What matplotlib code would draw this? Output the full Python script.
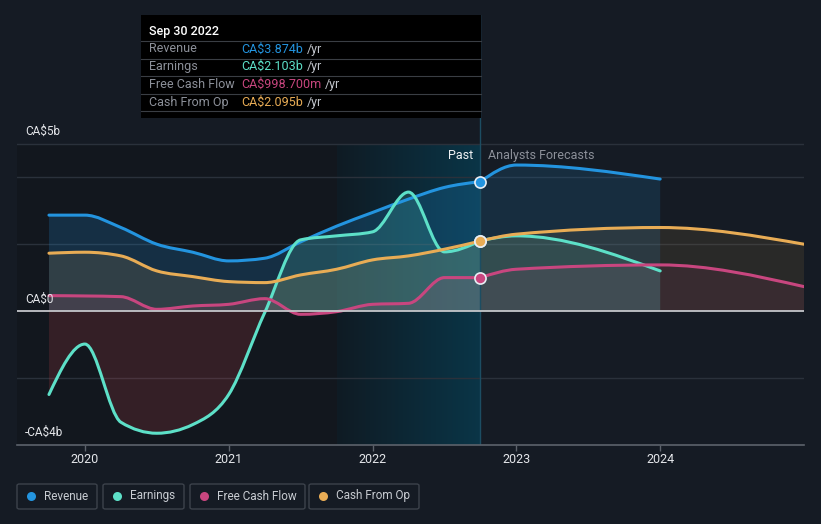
import matplotlib
matplotlib.use("Agg")
import matplotlib.pyplot as plt
from matplotlib.path import Path
from matplotlib.patches import PathPatch, Rectangle, FancyBboxPatch
import numpy as np

plt.rcParams['font.family'] = ['Roboto', 'DejaVu Sans']

W, H = 821, 524

# data, billions CA$
past_x = [2019.75, 2020.0, 2020.25, 2020.5, 2020.75, 2021.0, 2021.25,
          2021.5, 2021.75, 2022.0, 2022.25, 2022.5, 2022.75]
revenue_past = [2.87, 2.87, 2.5, 2.0, 1.76, 1.5, 1.58, 2.07, 2.54, 2.95, 3.35, 3.7, 3.874]
earnings_past = [-2.5, -0.99, -3.33, -3.66, -3.4, -2.5, -0.05, 2.13, 2.25, 2.37, 3.56, 1.77, 2.103]
fcf_past = [0.46, 0.45, 0.43, 0.05, 0.15, 0.2, 0.37, -0.1, -0.02, 0.2, 0.23, 1.0, 0.9987]
cfo_past = [1.73, 1.76, 1.65, 1.2, 1.03, 0.88, 0.85, 1.08, 1.25, 1.53, 1.65, 1.85, 2.095]

fc_x_short = [2022.75, 2023.0, 2024.0]
fc_x_long = [2022.75, 2023.0, 2024.0, 2025.0]
revenue_fc = [3.874, 4.37, 3.95]
earnings_fc = [2.103, 2.25, 1.2]
fcf_fc = [0.9987, 1.25, 1.38, 0.73]
cfo_fc = [2.095, 2.3, 2.5, 2.0]

names = ['Revenue', 'Earnings', 'Free Cash Flow', 'Cash From Op']
colors = ['#2394df', '#5de0c8', '#c8467f', '#e8ac55']
tip_values = ['CA$3.874b', 'CA$2.103b', 'CA$998.700m', 'CA$2.095b']
year_ticks = [2020, 2021, 2022, 2023, 2024]

BG = '#151b24'


def mono_path(x, y, close=False):
    # monotone cubic (like d3 curveMonotoneX) as bezier path
    x = np.asarray(x, float)
    y = np.asarray(y, float)
    n = len(x)
    h = np.diff(x)
    s = np.diff(y) / h
    m = np.zeros(n)
    for i in range(1, n - 1):
        p = (s[i - 1] * h[i] + s[i] * h[i - 1]) / (h[i - 1] + h[i])
        m[i] = (np.sign(s[i - 1]) + np.sign(s[i])) * min(abs(s[i - 1]), abs(s[i]), 0.5 * abs(p))
    if n > 2:
        m[0] = (3 * s[0] - m[1]) / 2
        m[-1] = (3 * s[-1] - m[-2]) / 2
    else:
        m[0] = m[-1] = s[0]
    verts = [(x[0], y[0])]
    codes = [Path.MOVETO]
    for i in range(n - 1):
        d = h[i] / 3
        verts += [(x[i] + d, y[i] + m[i] * d), (x[i + 1] - d, y[i + 1] - m[i + 1] * d), (x[i + 1], y[i + 1])]
        codes += [Path.CURVE4] * 3
    if close:
        verts += [(x[-1], 0), (x[0], 0), (x[0], y[0])]
        codes += [Path.LINETO, Path.LINETO, Path.CLOSEPOLY]
    return Path(verts, codes)


fig = plt.figure(figsize=(W / 100, H / 100), dpi=100, facecolor=BG)
ax_l, ax_r, ax_t, ax_b = 17, 804, 15, 444.6
ax = fig.add_axes([ax_l / W, 1 - ax_b / H, (ax_r - ax_l) / W, (ax_b - ax_t) / H])
ax.set_facecolor(BG)
ymin = -4.0
ymax = ymin + (ax_b - ax_t) / 33.4
xmin = 2020 + (ax_l - 85) / 144
xmax = 2025.0

# darker past area + highlighted band
ax.add_patch(Rectangle((xmin, -4), 2021.75 - xmin, 9, facecolor='#12171e', edgecolor='none', zorder=0.4))
c0 = np.array(matplotlib.colors.to_rgb('#0f1b24'))
c1 = np.array(matplotlib.colors.to_rgb('#0a3547'))
t = np.linspace(0, 1, 144)[None, :, None]
grad = c0 + (c1 - c0) * t
ax.imshow(grad, extent=[2021.75, 2022.75, -4, 5], aspect='auto', zorder=0.5, interpolation='nearest')

# grid
for g in [5, 4, 2, -2]:
    ax.axhline(g, color='#2a313b', lw=1, zorder=1)
ax.axhline(0, color='#c4c6ca', lw=1.3, zorder=6)

clip_pos = Rectangle((xmin, 0), xmax - xmin, 20, transform=ax.transData)
clip_neg = Rectangle((xmin, -20), xmax - xmin, 20, transform=ax.transData)

series = [
    (revenue_past, fc_x_short, revenue_fc),
    (earnings_past, fc_x_short, earnings_fc),
    (fcf_past, fc_x_long, fcf_fc),
    (cfo_past, fc_x_long, cfo_fc),
]
fill_alpha = [0.2, 0.16, 0.12, 0.13]

for (yp, fx, yf), col, fa in zip(series, colors, fill_alpha):
    for xs, ys, a in [(past_x, yp, fa), (fx, yf, fa * 0.75)]:
        p1 = PathPatch(mono_path(xs, ys, close=True), facecolor=col, edgecolor='none', alpha=a, zorder=2)
        ax.add_patch(p1)
        p1.set_clip_path(clip_pos)
        p2 = PathPatch(mono_path(xs, ys, close=True), facecolor='#e0484e', edgecolor='none', alpha=0.17, zorder=2)
        ax.add_patch(p2)
        p2.set_clip_path(clip_neg)
    for xs, ys in [(past_x, yp), (fx, yf)]:
        ax.add_patch(PathPatch(mono_path(xs, ys), facecolor='none', edgecolor=col, lw=2.2,
                               capstyle='round', joinstyle='round', zorder=4))

# today line + markers
ax.plot([2022.75, 2022.75], [ymin, ymax], color='#1c4d62', lw=1, zorder=3)
for (yp, fx, yf), col in zip(series, colors):
    ax.plot(2022.75, yp[-1], 'o', ms=8, mfc=col, mec='#e8eef4', mew=1.2, zorder=7)

ax.set_xlim(xmin, xmax)
ax.set_ylim(ymin, ymax)
for sp in ax.spines.values():
    sp.set_visible(False)
ax.set_yticks([])
ax.set_xticks(year_ticks)
ax.set_xticklabels([str(y) for y in year_ticks])
ax.tick_params(axis='x', colors='#5c626b', length=4, width=1, labelcolor='#e4e6ea', labelsize=9, pad=2)
ax.axhline(ymin, color='#5c626b', lw=1.2, zorder=6, clip_on=False)


def px(x, y):
    return x / W, 1 - y / H


# tooltip
tip = Rectangle(px(141, 118), 340 / W, 103 / H, transform=fig.transFigure, facecolor='#000000',
                edgecolor='none', zorder=10)
fig.patches.append(tip)
fig.text(*px(149, 31), 'Sep 30 2022', color='white', fontsize=9, fontweight='medium', va='center', zorder=11)
for yy in [41, 58.5, 76, 93.5, 111]:
    fig.add_artist(plt.Line2D([141 / W, 481 / W], [1 - yy / H] * 2, color='#3a3e44', lw=0.8, zorder=11))
fig.canvas.draw()
r = fig.canvas.get_renderer()
for i, (nm, val, col) in enumerate(zip(names, tip_values, colors)):
    yy = 49 + i * 17.7
    fig.text(*px(149, yy), nm, color='#8c9099', fontsize=9, va='center', zorder=11)
    tv = fig.text(*px(241, yy), val, color=col, fontsize=9, va='center', zorder=11)
    bb = tv.get_window_extent(renderer=r)
    fig.text(*px(bb.x1 + 4, yy), '/yr', color='#c0c4ca', fontsize=9, va='center', zorder=11)

# y labels
for lab, yy in [('CA$5b', 131), ('CA$0', 299), ('-CA$4b', 432)]:
    fig.text(*px(25, yy), lab, color='#e4e6ea', fontsize=8.5, va='center', zorder=8)

fig.text(*px(473, 156), 'Past', color='#f0f2f4', fontsize=9, va='center', ha='right', zorder=8)
fig.text(*px(488, 156), 'Analysts Forecasts', color='#8c9099', fontsize=9, va='center', zorder=8)

# legend
boxes = [(17, 97), (103, 184), (190, 305), (309, 419)]
for (x0, x1), nm, col in zip(boxes, names, colors):
    fb = FancyBboxPatch(px(x0, 509), (x1 - x0) / W, 25 / H, boxstyle='round,pad=0,rounding_size=0.003',
                        transform=fig.transFigure, facecolor='none', edgecolor='#3c424b', lw=1)
    fig.patches.append(fb)
    fig.add_artist(plt.Line2D([(x0 + 14) / W], [1 - 496 / H], marker='o', ms=6.5, color=col, mec='none'))
    fig.text(*px(x0 + 27, 496), nm, color='#c8ccd2', fontsize=8.5, va='center')

fig.savefig('out.png', dpi=100, facecolor=BG)
